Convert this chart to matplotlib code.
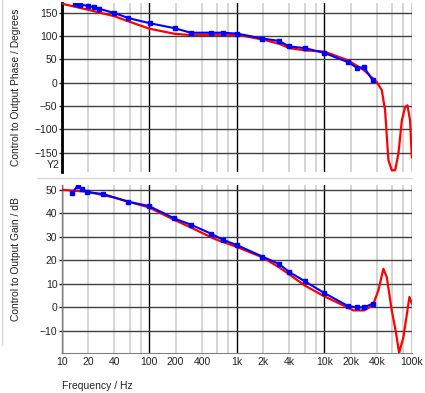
#bode plot: control to output phase and gain, measured (blue) vs model (red)

import matplotlib
matplotlib.use("Agg")
import matplotlib.pyplot as plt
from matplotlib.lines import Line2D
from matplotlib.ticker import FixedLocator, NullFormatter

plt.rcParams["font.family"] = ["Liberation Sans", "DejaVu Sans"]

#measured phase (blue squares)
phase_freq = [14.2, 16.2, 20.1, 23.6, 26.5, 39.9, 57.7, 101, 197, 298, 505, 692,
              1016, 1963, 3020, 3990, 5980, 10000, 18800, 23500, 28500, 35800]
phase_meas = [169, 168, 165, 162, 159, 150, 139, 128, 117, 107.5, 107.5, 107.5,
              105.5, 95, 90, 78, 74.5, 64, 44, 32.5, 33, 5]

#model phase (red line)
model_phase_freq = [10, 19.3, 39.9, 57.7, 101, 197, 298, 505, 1016, 1963, 3020,
                    3990, 5980, 10000, 18800, 28500, 39800, 45400, 49500, 54000,
                    59000, 64500, 70300, 76900, 83800, 89100, 95500, 100000]
model_phase = [170, 157.5, 143, 132, 116, 105, 102.5, 103, 103, 93, 84,
               74.5, 69.5, 67, 48, 26.6, 1.5, -16, -59, -166,
               -188, -188, -152, -81, -52, -48.5, -81, -160]

#measured gain (blue squares)
gain_freq = [13.2, 15.2, 16.9, 19.6, 29.9, 57.7, 99.5, 194, 298, 505, 692, 1016,
             1963, 3020, 3990, 5980, 10000, 18600, 23500, 28500, 35800]
gain_meas = [48.6, 51.7, 50.5, 49, 48.2, 44.9, 43.1, 37.8, 35.2, 31.4, 28.8, 26.4,
             21.6, 18.5, 15, 11.1, 6.1, 0.6, 0, 0, 1.6]

#model gain (red line)
model_gain_freq = [10, 19.6, 39.9, 99.5, 194, 298, 560, 1016, 1963, 3020, 3990,
                   5980, 10000, 18600, 21500, 28500, 35800, 41500, 47300, 51800,
                   59000, 66100, 71600, 80200, 93900, 100000]
model_gain = [50, 49.2, 46.7, 42.5, 37.2, 34, 29.1, 25.6, 21.3, 17.1, 14,
              9.3, 4.7, -0.1, -1.3, -1.3, 0.8, 7.2, 16.4, 12.8,
              -1.3, -11.1, -19.4, -12.6, 4.4, 1.6]

x_ticks = [10, 20, 40, 100, 200, 400, 1000, 2000, 4000, 10000, 20000, 40000, 100000]
x_tick_labels = ["10", "20", "40", "100", "200", "400", "1k", "2k", "4k",
                 "10k", "20k", "40k", "100k"]
phase_ticks = [150, 100, 50, 0, -50, -100, -150]
gain_ticks = [50, 40, 30, 20, 10, 0, -10]


#sets up the log frequency grid the same way for both panels
def style_axes(ax, yticks):
    ax.set_xscale("log")
    ax.set_xlim(10, 100000)
    ax.set_facecolor("white")
    for s in ["top", "right", "bottom"]:
        ax.spines[s].set_visible(False)
    #light lines only at 2, 4, 6, 8 of each decade
    minors = [m * 10 ** d for d in range(1, 5) for m in (2, 4, 6, 8)]
    for f in minors:
        ax.axvline(f, color="#d2d2d2", lw=1.3, zorder=0)
    for f in [10, 100, 1000, 10000, 100000]:
        ax.axvline(f, color="black", lw=1.0, zorder=1)
    for y in yticks:
        ax.axhline(y, color="#404040", lw=1.0, zorder=1)
    ax.yaxis.set_major_locator(FixedLocator(yticks))
    ax.xaxis.set_minor_formatter(NullFormatter())
    ax.tick_params(axis="y", length=2, width=1, pad=1, labelsize=7.5, colors="#222222")
    ax.tick_params(axis="x", which="both", length=0)


fig = plt.figure(figsize=(4.25, 3.93), dpi=100)

#phase panel
ax1 = fig.add_axes([0.145, 0.562, 0.824, 0.430])
style_axes(ax1, phase_ticks)
ax1.set_ylim(-192, 171)
ax1.spines["left"].set_color("black")
ax1.spines["left"].set_linewidth(2)
ax1.set_xticks(x_ticks)
ax1.set_xticklabels([])
ax1.plot(model_phase_freq, model_phase, color="red", lw=1.6, zorder=3)
ax1.plot(phase_freq, phase_meas, color="blue", lw=1.5, marker="s", ms=3.5, zorder=4)
ax1.set_ylabel("Control to Output Phase / Degrees", fontsize=7.4, color="#222222")
ax1.yaxis.set_label_coords(-0.115, 0.5)
ax1.text(-0.005, 0.015, "Y2", transform=ax1.transAxes, ha="right", va="bottom",
         fontsize=7.5, color="#222222")

#gain panel
ax2 = fig.add_axes([0.145, 0.1025, 0.824, 0.4265])
style_axes(ax2, gain_ticks)
ax2.set_ylim(-19.3, 52)
ax2.spines["left"].set_color("#808080")
ax2.spines["left"].set_linewidth(1)
ax2.spines["bottom"].set_visible(True)
ax2.spines["bottom"].set_color("#808080")
ax2.set_xticks(x_ticks)
ax2.set_xticklabels(x_tick_labels)
ax2.tick_params(axis="x", labelsize=7.5, colors="#222222", pad=3)
ax2.plot(model_gain_freq, model_gain, color="red", lw=1.6, zorder=3)
ax2.plot(gain_freq, gain_meas, color="blue", lw=1.5, marker="s", ms=3.5, zorder=4)
ax2.set_ylabel("Control to Output Gain / dB", fontsize=7.4, color="#222222")
ax2.yaxis.set_label_coords(-0.115, 0.56)

fig.text(97 / 425, 1 - 386 / 393, "Frequency / Hz", ha="center", va="center",
         fontsize=7.5, color="#222222")

#thin separators around the panels
fig.add_artist(Line2D([37 / 425, 412 / 425], [1 - 178 / 393] * 2,
                      color="#d8d8d8", lw=1))
fig.add_artist(Line2D([1.5 / 425] * 2, [1, 1 - 345 / 393], color="#d8d8d8", lw=1))

plt.savefig("out.png", dpi=100)
